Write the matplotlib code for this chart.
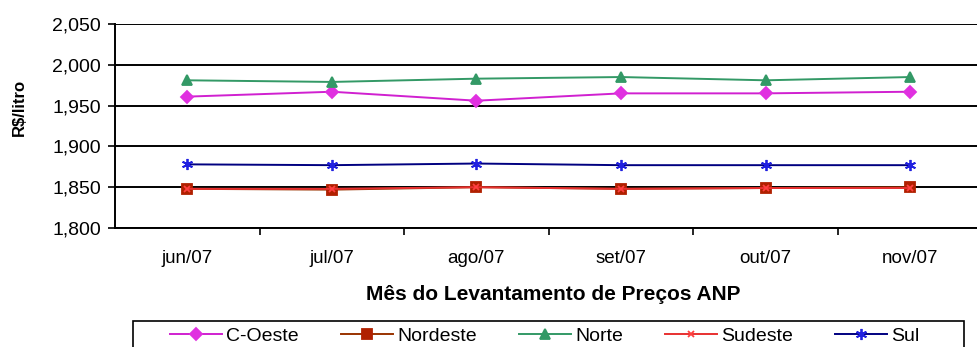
import matplotlib.pyplot as plt
import numpy as np
from matplotlib.patches import Rectangle
from matplotlib.ticker import FixedLocator, FuncFormatter

plt.rcParams.update(
    {
        "font.family": ["Liberation Sans", "DejaVu Sans"],
        "font.size": 13,
        "text.color": "black",
        "xtick.color": "black",
        "ytick.color": "black",
    }
)

# Data (R$/litro)
meses = ["jun/07", "jul/07", "ago/07", "set/07", "out/07", "nov/07"]
c_oeste = [1.961, 1.967, 1.956, 1.965, 1.965, 1.967]
nordeste = [1.848, 1.847, 1.850, 1.848, 1.849, 1.850]
norte = [1.981, 1.979, 1.983, 1.985, 1.981, 1.985]
sudeste = [1.848, 1.848, 1.850, 1.848, 1.849, 1.849]
sul = [1.878, 1.877, 1.879, 1.877, 1.877, 1.877]

W, H = 978, 347
fig = plt.figure(figsize=(W / 100, H / 100), dpi=100)
ax = fig.add_axes([115 / W, 1 - 228 / H, 1 - 115 / W, (228 - 24) / H])

x = np.arange(len(meses))
series = [
    ("C-Oeste", c_oeste, "#D020D0", "D", 6, "#E030E0"),
    ("Nordeste", nordeste, "#993300", "s", 7, "#B02000"),
    ("Norte", norte, "#339966", "^", 7, "#339966"),
    ("Sudeste", sudeste, "#E83030", "x", 5, "#FF4040"),
    ("Sul", sul, "#000080", (6, 2, 0), 8, "#2020E0"),
]
for name, vals, lc, mk, ms, mc in series:
    ax.plot(x, vals, color=lc, lw=1.4, marker=mk, ms=ms, mfc=mc, mec=mc,
            mew=1.3, label=name, zorder=3)

ax.set_xlim(-0.5, -0.5 + (W - 115) / 144.6)
ax.set_ylim(1.8, 2.05)
ax.set_yticks(np.arange(1.8, 2.051, 0.05))
ax.yaxis.set_major_formatter(FuncFormatter(lambda v, p: f"{v:.3f}".replace(".", ",")))
ax.grid(axis="y", color="black", lw=1.4)
ax.set_axisbelow(True)

ax.xaxis.set_major_locator(FixedLocator(x))
ax.set_xticklabels(meses, fontsize=13.5)
ax.xaxis.set_minor_locator(FixedLocator(np.arange(0.5, 6, 1)))
ax.tick_params(axis="x", which="major", length=0, pad=16)
ax.tick_params(axis="x", which="minor", length=5, width=1.2, direction="out")
ax.tick_params(axis="y", length=5, width=1.2, pad=5, labelsize=14)

for s in ["top", "right"]:
    ax.spines[s].set_visible(False)
for s in ["left", "bottom"]:
    ax.spines[s].set_linewidth(1.4)

fig.text(19 / W, 1 - 107 / H, "R\\$/litro", rotation=90, ha="center", va="center",
         fontweight="bold", fontsize=12)
fig.text(553 / W, 1 - 295 / H, "Mês do Levantamento de Preços ANP",
         ha="center", va="center", fontweight="bold", fontsize=15)

# Legend box, cut off at the bottom edge like the original
fig.patches.append(
    Rectangle((133 / W, -0.05), (964 - 133) / W, 1 - 321 / H + 0.05,
              transform=fig.transFigure, fill=False, ec="black", lw=1.2)
)
leg = fig.legend(
    loc="upper left",
    bbox_to_anchor=(170 / W, 1 - 327 / H),
    ncol=5,
    frameon=False,
    handlelength=2.7,
    handletextpad=0.2,
    columnspacing=2.15,
    borderpad=0,
    borderaxespad=0,
    fontsize=14,
)

plt.savefig("out.png", dpi=100)
